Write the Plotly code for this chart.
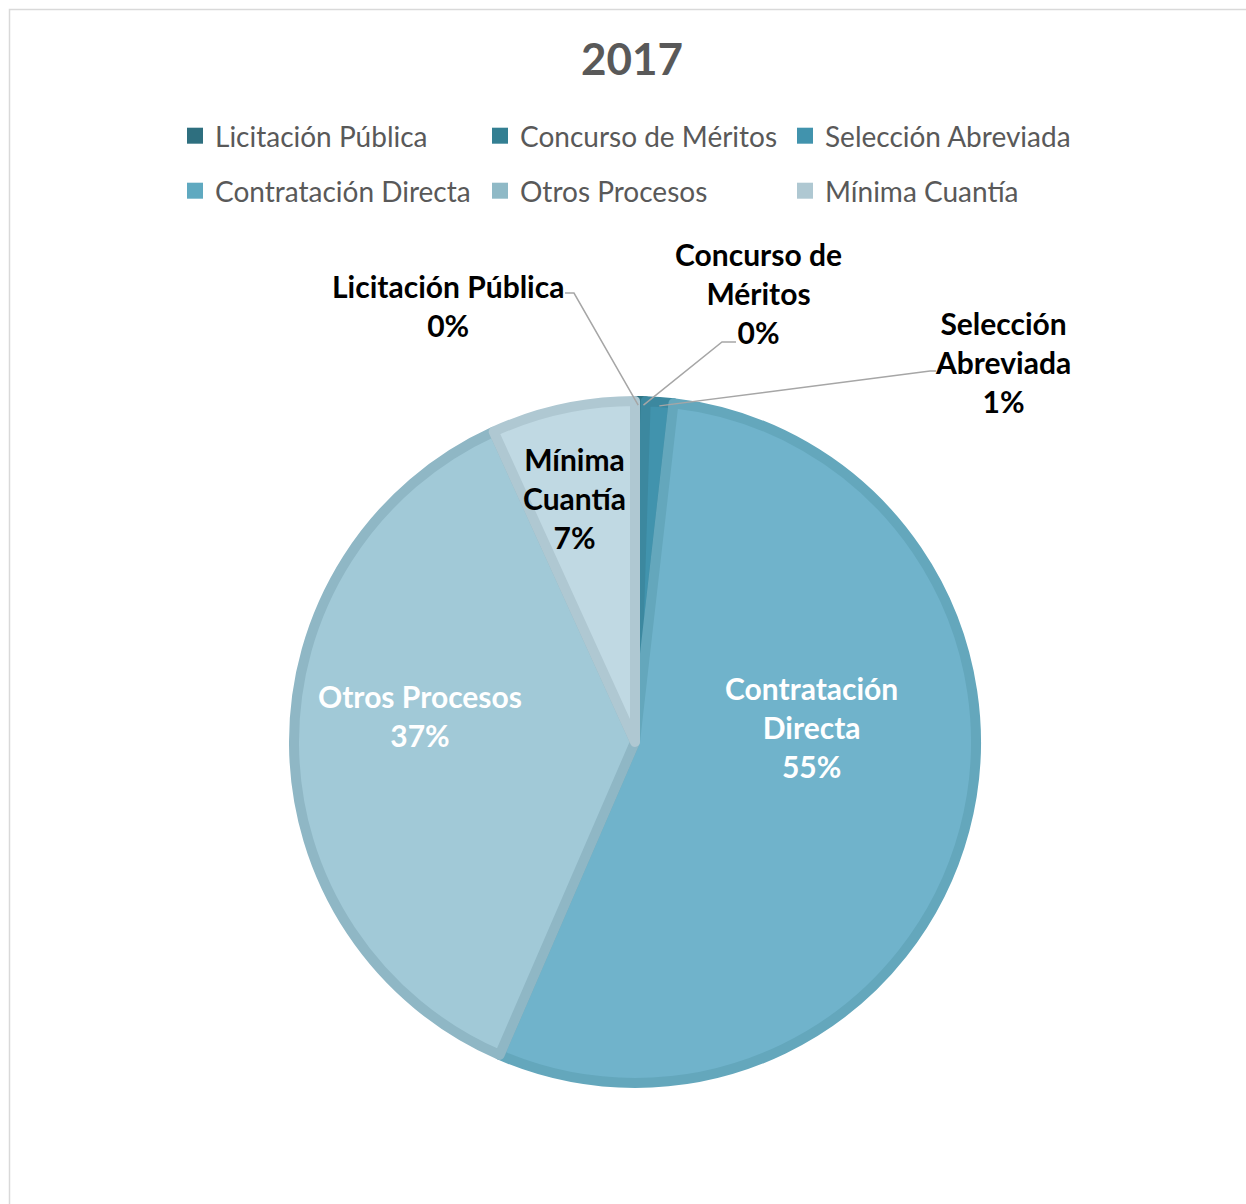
import math
import plotly.graph_objects as go

# ---- data ----
categories = ["Licitación Pública", "Concurso de Méritos", "Selección Abreviada",
              "Contratación Directa", "Otros Procesos", "Mínima Cuantía"]
values = [0.3, 0.2, 1.3, 54.7, 36.7, 6.8]
display_names = ["Licitación Pública", "Concurso de<br>Méritos", "Selección<br>Abreviada",
                 "Contratación<br>Directa", "Otros Procesos", "Mínima<br>Cuantía"]

# ---- styles ----
fill_colors = ["#2E6F7F", "#337F92", "#4193AD", "#70B3CB", "#A1C9D7", "#C0D9E3"]
line_colors = ["#2A6676", "#2F7686", "#3C889F", "#64A7BC", "#8FB7C5", "#AFC8D2"]
legend_colors = ["#2E6F7F", "#337F92", "#4193AD", "#5FA9C0", "#8FB9C6", "#AFC8D2"]
FONT = "Lato"
W, H = 1246, 1204
CX, CY, R = 635, 742, 341  # pie centre / radius in pixels

total = sum(values)
pcts = [v / total for v in values]

fig = go.Figure()
fig.add_trace(go.Pie(
    labels=categories,
    values=values,
    sort=False,
    direction="clockwise",
    rotation=0,
    marker=dict(colors=fill_colors, line=dict(color=line_colors, width=10)),
    textinfo="none",
    hoverinfo="label+percent",
    showlegend=False,
    domain=dict(x=[(CX - R) / W, (CX + R) / W], y=[(H - CY - R) / H, (H - CY + R) / H]),
))

# legend entries (two rows of three)
for i, name in enumerate(categories):
    fig.add_trace(go.Scatter(
        x=[None], y=[None], mode="markers", name=name,
        marker=dict(symbol="square", size=18, color=legend_colors[i]),
        legend="legend" if i < 3 else "legend2", showlegend=True, hoverinfo="skip"))

annotations = []
label_font = dict(family=FONT, size=30, color="black")
white_font = dict(family=FONT, size=30, color="white")

def pct_text(i):
    return f"{round(pcts[i] * 100):.0f}%"

# inside labels (pixel positions of text centres)
inside = {3: (811, 727, white_font), 4: (420, 715, white_font), 5: (574, 498, label_font)}
for i, (px, py, f) in inside.items():
    annotations.append(dict(
        x=px / W, y=1 - py / H, xref="paper", yref="paper",
        text=f"<b>{display_names[i]}<br>{pct_text(i)}</b>", showarrow=False,
        font=f, align="center", xanchor="center", yanchor="middle"))

# outside labels with leader lines pointing at the slice edge
cum = 0.0
mid_angles = []
for p in pcts:
    mid_angles.append((cum + p / 2) * 2 * math.pi)
    cum += p

# text centre, elbow point, line end near text (pixels)
outside = {
    0: ((448, 305), (574, 293), (565, 293)),
    1: ((758, 293), (722, 342), (736, 342)),
    2: ((1003, 362), (930, 371), (936, 371)),
}
shapes = [dict(type="rect", xref="paper", yref="paper",
               x0=9.5 / W, x1=1.01, y0=-0.01, y1=1 - 9.5 / H,
               line=dict(color="#D9D9D9", width=1.5), fillcolor="rgba(0,0,0,0)", layer="below")]

def P(x, y):
    return f"{x / W:.5f},{1 - y / H:.5f}"

for i, ((tx, ty), (bx, by), (lx, ly)) in outside.items():
    a = mid_angles[i]
    ex = CX + (R - 4) * math.sin(a)
    ey = CY - (R - 4) * math.cos(a)
    annotations.append(dict(
        x=tx / W, y=1 - ty / H, xref="paper", yref="paper",
        text=f"<b>{display_names[i]}<br>{pct_text(i)}</b>", showarrow=False,
        font=label_font, align="center", xanchor="center", yanchor="middle"))
    shapes.append(dict(type="path", xref="paper", yref="paper",
                       path=f"M{P(ex, ey)} L{P(bx, by)} L{P(lx, ly)}",
                       line=dict(color="#A6A6A6", width=1.5), layer="above"))

legend_common = dict(orientation="h", xanchor="left", yanchor="middle",
                     entrywidth=260, entrywidthmode="pixels", traceorder="normal",
                     font=dict(family=FONT, size=28, color="#595959"),
                     bgcolor="rgba(0,0,0,0)", itemclick=False, itemdoubleclick=False)

fig.update_layout(
    width=W, height=H,
    margin=dict(l=0, r=0, t=0, b=0),
    paper_bgcolor="white",
    plot_bgcolor="rgba(0,0,0,0)",
    xaxis=dict(visible=False),
    yaxis=dict(visible=False),
    title=dict(text="<b>2017</b>", x=632 / W, xanchor="center", y=1 - 60 / H, yanchor="middle",
               font=dict(family=FONT, size=44, color="#595959")),
    showlegend=True,
    legend=dict(x=175 / W, y=1 - 136 / H, **legend_common),
    legend2=dict(x=175 / W, y=1 - 191 / H, **legend_common),
    annotations=annotations,
    shapes=shapes,
)

fig.write_html("out.html")
